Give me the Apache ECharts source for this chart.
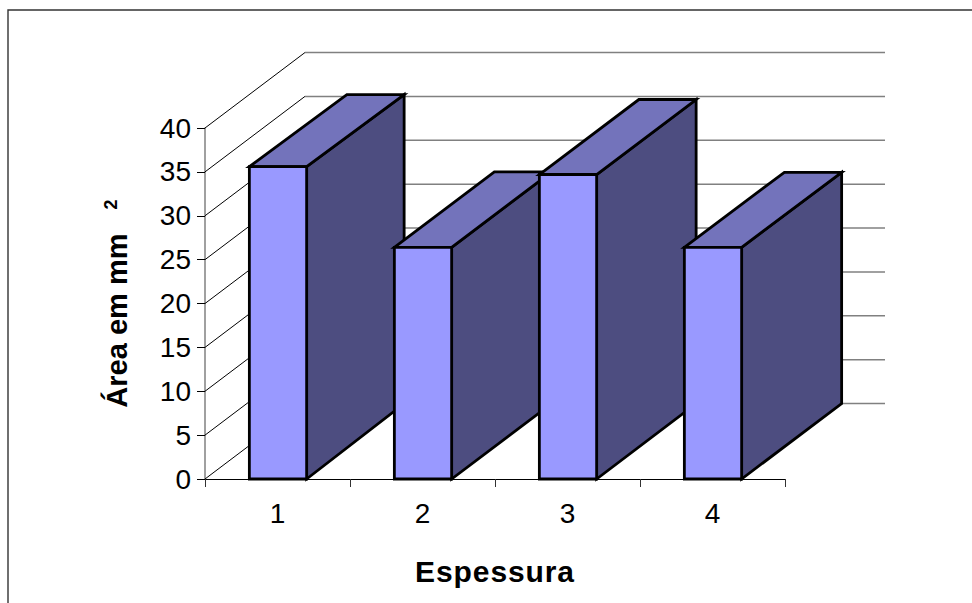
<!DOCTYPE html>
<html>
<head>
<meta charset="utf-8">
<style>html,body{margin:0;padding:0;background:#fff}#c{width:972px;height:603px}
svg text[style*="30px"]{letter-spacing:.9px}</style>
<script src="https://cdn.jsdelivr.net/npm/echarts@6/dist/echarts.min.js"></script>
</head>
<body>
<div id="c"></div>
<script>
const categories = ['1', '2', '3', '4'];
const areaValues = [35.6, 26.4, 34.7, 26.4];
const wallTicks = [0, 5, 10, 15, 20, 25, 30, 35, 40];
const xTitle = 'Espessura';
const yTitle = 'Área em mm';
const yTitleSup = '2';

const FONT = '"Liberation Sans", Arial, sans-serif';
const DX = 100, DY = 75.5;
const barDepthX = [97.5, 100, 99.5, 100];
const barDepthTop = [72, 75.5, 75, 75];

function renderWall(params, api) {
  const sys = params.coordSys;
  const y = api.coord([0, api.value(0)])[1];
  const x0 = sys.x, x1 = sys.x + sys.width;
  return {
    type: 'group',
    children: [
      { type: 'line', shape: { x1: x0, y1: y, x2: x0 + DX, y2: y - DY },
        style: { stroke: '#000', lineWidth: 1 } },
      { type: 'line', shape: { x1: x0 + DX, y1: y - DY, x2: x1 + DX, y2: y - DY },
        style: { stroke: '#808080', lineWidth: 1.5 } }
    ]
  };
}

function renderBar(params, api) {
  const i = api.value(0);
  const top = api.coord([i, api.value(1)]);
  const base = api.coord([i, 0]);
  const w = api.size([1, 0])[0] * 0.395;
  const l = top[0] - w / 2 + 0.5, r = top[0] + w / 2 + 0.5;
  const dx = barDepthX[i], dt = barDepthTop[i];
  const s = { stroke: '#000', lineWidth: 2.8, lineJoin: 'miter' };
  return {
    type: 'group',
    children: [
      { type: 'polygon',
        shape: { points: [[r, base[1]], [r, top[1]], [r + dx, top[1] - dt], [r + dx, base[1] - DY]] },
        style: Object.assign({ fill: '#4D4D80' }, s) },
      { type: 'polygon',
        shape: { points: [[l, top[1]], [l + dx, top[1] - dt], [r + dx, top[1] - dt], [r, top[1]]] },
        style: Object.assign({ fill: '#7373BB' }, s) },
      { type: 'rect',
        shape: { x: l, y: top[1], width: w, height: base[1] - top[1] },
        style: Object.assign({ fill: '#9999FF' }, s) }
    ]
  };
}

const chart = echarts.init(document.getElementById('c'), null, { renderer: 'svg' });
chart.setOption({
  animation: false,
  backgroundColor: '#fff',
  textStyle: { fontFamily: FONT },
  graphic: [{
    type: 'rect', silent: true,
    shape: { x: 8, y: 10, width: 975, height: 610 },
    style: { fill: 'none', stroke: '#333', lineWidth: 1.4 }
  }],
  grid: { left: 205, top: 128, width: 580, height: 351, outerBoundsMode: 'none' },
  xAxis: {
    type: 'category', data: categories,
    axisLine: { lineStyle: { color: '#000', width: 1 } },
    axisTick: { show: true, length: 8, lineStyle: { color: '#333', width: 1 } },
    axisLabel: { fontSize: 28, color: '#000', margin: 20, fontFamily: FONT },
    splitLine: { show: false },
    name: xTitle, nameLocation: 'middle', nameGap: 77,
    nameTextStyle: { fontSize: 30, fontWeight: 'bold', color: '#000', fontFamily: FONT }
  },
  yAxis: {
    type: 'value', min: 0, max: 40, interval: 5,
    axisLine: { show: true, lineStyle: { color: '#808080', width: 1.5 } },
    axisTick: { show: true, length: 8, lineStyle: { color: '#000', width: 1 } },
    axisLabel: { fontSize: 28, color: '#000', margin: 14, fontFamily: FONT },
    splitLine: { show: false },
    name: '{t|' + yTitle + '}{g|   }{s|' + yTitleSup + '}',
    nameLocation: 'middle', nameRotate: 90, nameGap: 74,
    nameTextStyle: {
      rich: {
        t: { fontSize: 29, fontWeight: 'bold', color: '#000', fontFamily: FONT },
        g: { fontSize: 29, fontWeight: 'bold', fontFamily: FONT },
        s: { fontSize: 18, fontWeight: 'bold', color: '#000', fontFamily: FONT, verticalAlign: 'top' }
      }
    }
  },
  series: [
    { type: 'custom', renderItem: renderWall, data: wallTicks.map(v => [v]), z: 1, silent: true },
    { type: 'custom', renderItem: renderBar, z: 3, silent: true,
      data: areaValues.map((v, i) => [i, v]), encode: { x: 0, y: 1 } }
  ]
});
</script>
</body>
</html>
